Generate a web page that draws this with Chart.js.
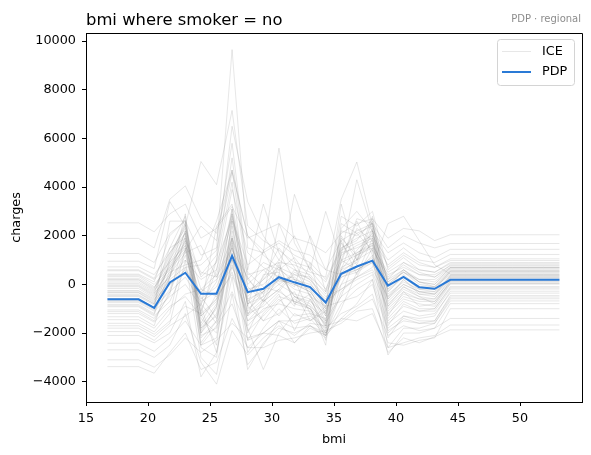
<!DOCTYPE html>
<html><head><meta charset="utf-8">
<script src="https://cdn.jsdelivr.net/npm/chart.js@4.4.1/dist/chart.umd.min.js"></script>
<style>html,body{margin:0;padding:0;background:#fff;}#wrap{width:591px;height:455px;position:relative;}</style>
</head><body><div id="wrap"><canvas id="c" width="591" height="455"></canvas></div>
<script>
const bmiGrid = [16.73,17.99,19.24,20.50,21.76,23.01,24.27,25.53,26.78,28.04,29.30,30.56,31.81,33.07,34.33,35.58,36.84,38.10,39.35,40.61,41.87,43.12,44.38,45.64,46.89,48.15,49.41,50.66,51.92,53.18];
const xTicks = [15,20,25,30,35,40,45,50];
const yTicks = [-4000,-2000,0,2000,4000,6000,8000,10000];
const pdp = [-615,-615,-615,-965,80,478,-385,-380,1170,-320,-180,295,85,-110,-745,436,735,975,-50,305,-115,-180,190,190,190,190,190,190,190,190];

const ice01 = [2530,2530,2530,2160,2900,3300,1900,2300,3200,1900,2200,2500,1900,1700,1300,2100,2500,2700,1900,2300,2200,1800,2040,2040,2040,2040,2040,2040,2040,2040];
const ice02 = [1890,1890,1890,1500,3500,4050,2700,2100,4700,2000,1400,1800,1400,1200,600,1800,2200,2500,1500,2000,1700,1500,1680,1680,1680,1680,1680,1680,1680,1680];
const ice03 = [1270,1270,1270,900,2100,2600,1200,1500,9650,1500,1300,1700,1200,900,200,1500,1900,2200,1300,1700,1300,1100,1440,1440,1440,1440,1440,1440,1440,1440];
const ice04 = [950,950,950,650,3400,2400,5050,4100,7150,2400,1800,1400,900,700,100,1400,1700,2000,1000,1500,1000,900,1230,1230,1230,1230,1230,1230,1230,1230];
const ice05 = [720,720,720,400,1300,2300,300,900,2700,800,1300,5600,1700,600,-200,1200,1600,1900,800,1300,900,700,1050,1050,1050,1050,1050,1050,1050,1050];
const ice06 = [600,600,600,250,1500,1900,-200,400,2600,400,600,900,800,500,300,3500,5030,2400,700,1200,800,700,980,980,980,980,980,980,980,980];
const ice07 = [560,560,560,200,900,1600,400,1200,6500,3400,2000,1000,600,400,-400,900,1200,1600,500,900,600,500,900,900,900,900,900,900,900,900];
const ice08 = [420,420,420,100,2000,2650,-1300,-700,1900,-300,200,700,400,300,-800,2800,2400,3000,600,1100,600,500,850,850,850,850,850,850,850,850];
const ice09 = [330,330,330,-100,600,1400,2400,1800,5800,600,3300,1300,200,0,-600,700,1000,1400,400,700,400,400,760,760,760,760,760,760,760,760];
const ice10 = [250,250,250,-150,1000,2100,-1800,-1000,2200,-800,-300,400,3700,1900,-300,1000,1300,1700,300,800,400,300,700,700,700,700,700,700,700,700];
const ice11 = [170,170,170,-250,500,800,1000,2600,4700,200,-400,200,0,-300,-1200,1200,4300,2200,200,600,200,200,680,680,680,680,680,680,680,680];
const ice12 = [100,100,100,-300,1200,2450,-1600,-400,2900,0,600,0,400,100,-1000,3300,1000,2800,0,500,200,100,640,640,640,640,640,640,640,640];
const ice13 = [40,40,40,-350,300,1000,200,600,3900,1300,700,300,-100,2000,600,400,700,1100,100,500,100,0,590,590,590,590,590,590,590,590];
const ice14 = [-20,-20,-20,-400,1500,2800,-2000,-1200,1600,-1200,-600,200,300,-200,-1500,2200,2000,2500,0,500,0,-100,560,560,560,560,560,560,560,560];
const ice15 = [-100,-100,-100,-500,400,1300,1600,300,1500,-500,200,1000,2000,600,3000,1000,600,1000,-200,300,-100,-100,520,520,520,520,520,520,520,520];
const ice16 = [-170,-170,-170,-550,800,1700,-1200,-600,2400,-700,-200,300,-200,-400,-1600,1000,2700,2500,-300,300,-200,-200,480,480,480,480,480,480,480,480];
const ice17 = [-250,-250,-250,-600,0,600,-400,1000,5200,500,-100,-300,500,200,-500,-200,300,700,2500,2800,1800,800,430,430,430,430,430,430,430,430];
const ice18 = [-330,-330,-330,-700,1100,2550,-1900,-900,3100,-1000,-500,0,-400,-600,-1800,1500,1800,2700,-500,200,-300,-300,380,380,380,380,380,380,380,380];
const ice19 = [-350,-350,-350,-750,200,700,800,1400,4600,2000,1200,700,0,-300,-1100,400,600,900,-600,0,-300,-400,360,360,360,360,360,360,360,360];
const ice20 = [-420,-420,-420,-800,300,2200,-2200,-1500,1300,-1500,-800,400,-500,-800,-1700,2300,3000,2200,-700,-100,-400,-400,330,330,330,330,330,330,330,330];
const ice21 = [-500,-500,-500,-850,0,500,-300,200,1000,-200,0,600,200,-100,-900,300,600,1000,-400,100,-200,-300,280,280,280,280,280,280,280,280];
const ice22 = [-580,-580,-580,-950,2600,2600,-1400,-2000,1800,-2300,-1200,-500,-700,-1000,-1900,1300,1500,1800,-900,-300,-600,-600,230,230,230,230,230,230,230,230];
const ice23 = [-600,-600,-600,-950,-300,300,-700,-300,700,-600,-300,200,0,-200,-1000,0,300,600,-500,0,-300,-400,210,210,210,210,210,210,210,210];
const ice24 = [-660,-660,-660,-1000,300,2900,-1800,-1300,2000,-1300,400,500,-500,-700,-1200,600,900,2600,-800,-200,-500,-600,170,170,170,170,170,170,170,170];
const ice25 = [-750,-750,-750,-1100,-500,0,-900,2400,3300,-100,-700,-200,600,200,-700,-200,200,500,-1000,-400,-600,-700,110,110,110,110,110,110,110,110];
const ice26 = [-830,-830,-830,-1200,1000,2400,-2100,-1800,2600,-1700,-1000,-800,-1000,-1100,-2000,1400,2100,2400,-1100,-500,-700,-700,60,60,60,60,60,60,60,60];
const ice27 = [-920,-920,-920,-1300,-700,700,-600,-100,1500,-800,-500,2500,1000,-500,-1300,300,500,900,-1200,-600,-800,-900,10,10,10,10,10,10,10,10];
const ice28 = [-1050,-1050,-1050,-1400,-400,2000,-2400,-1500,1700,-1900,-1300,-600,-1300,-1200,-2100,500,1000,2300,-1400,-700,-1000,-1000,-90,-90,-90,-90,-90,-90,-90,-90];
const ice29 = [-1200,-1200,-1200,-1550,-900,-500,-1300,-600,500,-1200,-900,-300,-700,-900,-1500,2500,2100,1400,-1500,-900,-1100,-1100,-190,-190,-190,-190,-190,-190,-190,-190];
const ice30 = [-1330,-1330,-1330,-1700,300,1800,-2600,-3000,1200,-2800,-1800,-1000,-1600,-1400,-2100,-300,300,1500,-2200,-1300,-1400,-1300,-280,-280,-280,-280,-280,-280,-280,-280];
const ice31 = [-1450,-1450,-1450,-1800,-1000,-400,-200,-500,400,-1300,-700,800,-800,-1000,-1600,-500,0,400,-1600,-1100,-1300,-1200,-360,-360,-360,-360,-360,-360,-360,-360];
const ice32 = [-1600,-1600,-1600,-1950,-1200,1500,-2500,-2200,1000,-2300,-2000,-1500,-2400,-1700,-2100,0,1200,2000,-2000,-1400,-1600,-1500,-460,-460,-460,-460,-460,-460,-460,-460];
const ice33 = [-1700,-1700,-1700,-2050,-1500,-900,-1200,1000,4200,-900,-1500,-1200,-600,-1000,-2000,-800,-200,200,-1800,-1300,-1500,-1500,-520,-520,-520,-520,-520,-520,-520,-520];
const ice34 = [-1800,-1800,-1800,-2150,-1600,1000,-3000,-3700,-400,-3300,-2500,-1500,-1800,-1700,-2200,-1000,500,1200,-2600,-1800,-1800,-1600,-590,-590,-590,-590,-590,-590,-590,-590];
const ice35 = [-1940,-1940,-1940,-2300,-1700,-1300,-800,-1600,-300,-1800,-3500,-2000,-1200,-1500,-900,-700,-500,0,-1900,-1500,-1600,-1600,-680,-680,-680,-680,-680,-680,-680,-680];
const ice36 = [-2100,-2100,-2100,-2400,-2000,-700,-3800,-2800,300,-3500,-2400,-1800,-2000,-1700,-2000,-1400,-800,200,-2900,-2000,-2000,-1800,-790,-790,-790,-790,-790,-790,-790,-790];
const ice37 = [-2420,-2420,-2420,-2750,-2200,-1500,-2500,-1700,-800,-2600,-2000,-1500,-1500,-1300,-1800,-1200,-900,-400,-2400,-2500,-2300,-2200,-1000,-1000,-1000,-1000,-1000,-1000,-1000,-1000];
const ice38 = [-2690,-2690,-2690,-3000,-2500,-1200,-3200,-4100,-1900,-2900,-2200,-1700,-2100,-1600,-1700,-1500,-1000,-600,-2100,-1700,-1900,-1800,-1400,-1400,-1400,-1400,-1400,-1400,-1400,-1400];
const ice39 = [-3100,-3100,-3100,-3400,-2900,-2200,-2800,-2300,-1600,-2200,-2000,-2100,-2400,-1800,-2100,-1400,-1500,-1200,-2600,-2400,-2200,-2100,-1670,-1670,-1670,-1670,-1670,-1670,-1670,-1670];
const ice40 = [-3380,-3380,-3380,-3650,-2800,-2000,-3500,-3200,-1400,-2600,-2600,-2300,-2200,-2000,-1900,-1600,-1100,-1000,-2800,-2200,-2400,-2150,-1870,-1870,-1870,-1870,-1870,-1870,-1870,-1870];
const ice41 = [380,380,380,0,700,1800,500,300,1900,200,900,600,1100,300,-300,1900,1200,1500,200,900,500,300,800,800,800,800,800,800,800,800];
const ice42 = [200,200,200,-200,1300,2100,-800,100,3100,-400,300,1500,700,-500,-900,600,2300,1800,100,600,100,0,700,700,700,700,700,700,700,700];
const ice43 = [-60,-60,-60,-450,700,1500,-500,-1400,1400,300,-700,-200,-900,900,-1300,1700,800,2200,-300,400,-100,-200,540,540,540,540,540,540,540,540];
const ice44 = [-280,-280,-280,-650,400,2200,-1100,600,2900,-900,1400,100,200,-1200,-1400,-500,1300,1600,-200,600,100,-100,410,410,410,410,410,410,410,410];
const ice45 = [-460,-460,-460,-800,900,1900,-1700,-800,1100,-1100,-300,900,-800,-400,-2300,1800,400,1900,-600,200,-400,-500,300,300,300,300,300,300,300,300];
const ice46 = [-700,-700,-700,-1050,-200,1400,-1200,-2500,2800,-600,-1500,-700,-300,-1500,-1100,900,2600,1200,-900,-100,-500,-800,140,140,140,140,140,140,140,140];
const ice47 = [-880,-880,-880,-1250,600,1600,-2000,-900,1900,-2000,-600,-1300,-500,-900,-2500,2000,1000,1700,-1300,-300,-900,-800,40,40,40,40,40,40,40,40];
const ice48 = [-1120,-1120,-1120,-1500,-300,1200,-900,-2800,800,-1500,-1100,-400,-1900,-600,-1700,600,1400,2100,-1700,-800,-1100,-1000,-140,-140,-140,-140,-140,-140,-140,-140];

const iceLines = [ice01,ice02,ice03,ice04,ice05,ice06,ice07,ice08,ice09,ice10,ice11,ice12,ice13,ice14,ice15,ice16,ice17,ice18,ice19,ice20,ice21,ice22,ice23,ice24,ice25,ice26,ice27,ice28,ice29,ice30,ice31,ice32,ice33,ice34,ice35,ice36,ice37,ice38,ice39,ice40,ice41,ice42,ice43,ice44,ice45,ice46,ice47,ice48];

const ICE_COLOR = 'rgba(128,128,128,0.19)';
const PDP_COLOR = '#2a7ad6';
const FONT = '"DejaVu Sans", sans-serif';

const toPts = arr => arr.map((v, i) => ({x: bmiGrid[i], y: v}));
const datasets = [{
  label: 'PDP', data: toPts(pdp), borderColor: PDP_COLOR, borderWidth: 2,
  pointRadius: 0, tension: 0, fill: false, order: 0
}];
iceLines.forEach(arr => datasets.push({
  label: 'ICE', data: toPts(arr), borderColor: ICE_COLOR, borderWidth: 1,
  pointRadius: 0, tension: 0, fill: false, order: 1
}));

const overlay = {
  id: 'overlay',
  afterDraw(chart) {
    const ctx = chart.ctx, a = chart.chartArea;
    ctx.save();
    ctx.strokeStyle = '#000'; ctx.lineWidth = 1;
    ctx.beginPath();
    ctx.moveTo(Math.round(a.left) + 0.5, Math.round(a.top) + 0.5);
    ctx.lineTo(Math.round(a.right) + 0.5, Math.round(a.top) + 0.5);
    ctx.lineTo(Math.round(a.right) + 0.5, Math.round(a.bottom) + 0.5);
    ctx.stroke();
    ctx.fillStyle = '#000';
    ctx.font = '16.4px ' + FONT;
    ctx.textAlign = 'left'; ctx.textBaseline = 'alphabetic';
    ctx.fillText('bmi where smoker = no', a.left, 25);
    ctx.fillStyle = '#8c8c8c';
    ctx.font = '10px ' + FONT;
    ctx.textAlign = 'right';
    ctx.fillText('PDP · regional', 581, 22);
    ctx.fillStyle = '#000';
    ctx.font = '12.8px ' + FONT;
    ctx.textAlign = 'center';
    ctx.fillText('bmi', (a.left + a.right) / 2, 443);
    ctx.save();
    ctx.translate(20, (a.top + a.bottom) / 2);
    ctx.rotate(-Math.PI / 2);
    ctx.fillText('charges', 0, 0);
    ctx.restore();
    const lx = 497.5, ly = 39.5, lw = 77, lh = 46;
    ctx.fillStyle = 'rgba(255,255,255,0.8)';
    ctx.strokeStyle = '#d4d4d4'; ctx.lineWidth = 1;
    ctx.beginPath();
    ctx.roundRect(lx, ly, lw, lh, 3);
    ctx.fill(); ctx.stroke();
    ctx.lineWidth = 1; ctx.strokeStyle = ICE_COLOR;
    ctx.beginPath(); ctx.moveTo(502, 51.5); ctx.lineTo(531, 51.5); ctx.stroke();
    ctx.lineWidth = 2; ctx.strokeStyle = PDP_COLOR;
    ctx.beginPath(); ctx.moveTo(502, 72); ctx.lineTo(531, 72); ctx.stroke();
    ctx.fillStyle = '#000';
    ctx.font = '12.8px ' + FONT;
    ctx.textAlign = 'left'; ctx.textBaseline = 'middle';
    ctx.fillText('ICE', 542, 52);
    ctx.fillText('PDP', 542, 72);
    ctx.restore();
  }
};

new Chart(document.getElementById('c'), {
  type: 'line',
  data: {datasets},
  options: {
    responsive: false, animation: false, events: [],
    layout: {padding: {left: 0, top: 33, right: 9, bottom: 0}},
    plugins: {legend: {display: false}, tooltip: {enabled: false}, title: {display: false}},
    scales: {
      x: {
        type: 'linear', min: 15, max: 55,
        afterFit: s => { s.height = 53; },
        afterBuildTicks: s => { s.ticks = xTicks.map(v => ({value: v})); },
        grid: {display: true, drawOnChartArea: false, drawTicks: true, tickLength: 4, tickColor: '#000', color: '#000'},
        border: {display: true, color: '#000', width: 1},
        ticks: {color: '#000', font: {family: FONT, size: 12.8}, padding: 5, maxRotation: 0, autoSkip: false, callback: v => String(v)}
      },
      y: {
        type: 'linear', min: -4834, max: 10333,
        afterFit: s => { s.width = 86; },
        afterBuildTicks: s => { s.ticks = yTicks.map(v => ({value: v})); },
        grid: {display: true, drawOnChartArea: false, drawTicks: true, tickLength: 4, tickColor: '#000', color: '#000'},
        border: {display: true, color: '#000', width: 1},
        ticks: {color: '#000', font: {family: FONT, size: 12.8}, padding: 6, autoSkip: false, callback: v => (v < 0 ? '\u2212' + Math.abs(v) : String(v))}
      }
    }
  },
  plugins: [overlay]
});
</script></body></html>
